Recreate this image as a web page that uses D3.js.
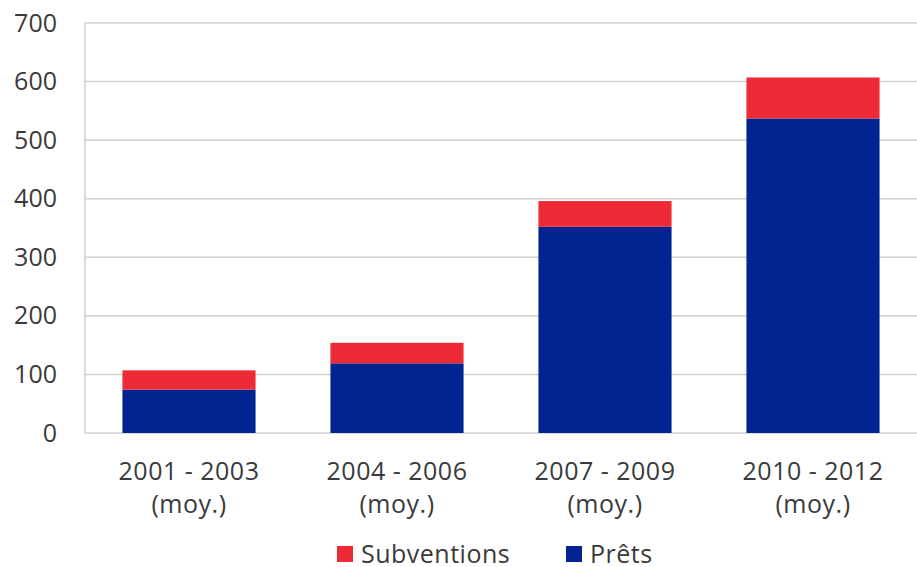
<!DOCTYPE html>
<html>
<head>
<meta charset="utf-8">
<script src="https://cdn.jsdelivr.net/npm/d3@7"></script>
<style>
  body { margin: 0; background: #fff; }
  text { font-family: "Open Sans", "DejaVu Sans", sans-serif; fill: #3a3a3a; }
</style>
</head>
<body>
<div id="chart"></div>
<script>
const width = 917, height = 567;
const margin = { top: 23, right: 0, bottom: 134, left: 85 };

const periods = ['2001 - 2003', '2004 - 2006', '2007 - 2009', '2010 - 2012'];
const prets = [74, 119, 352, 537];
const subventions = [33, 35, 44, 70];
const yTicks = [0, 100, 200, 300, 400, 500, 600, 700];
const seriesNames = ['Subventions', 'Prêts'];
const colors = { 'Prêts': '#022490', 'Subventions': '#ee2a37' };

const data = periods.map((p, i) => ({ period: p, 'Prêts': prets[i], 'Subventions': subventions[i] }));

const xScale = d3.scaleBand().domain(periods)
    .range([margin.left, width - margin.right]).paddingInner(0.36).paddingOuter(0.18);
const yScale = d3.scaleLinear().domain([0, 700]).range([height - margin.bottom, margin.top]);

const svg = d3.select('#chart').append('svg')
    .attr('width', width)
    .attr('height', height);

// gridlines
svg.append('g')
    .selectAll('line')
    .data(yTicks)
    .enter().append('line')
    .attr('x1', margin.left)
    .attr('x2', width - margin.right)
    .attr('y1', d => yScale(d))
    .attr('y2', d => yScale(d))
    .style('stroke', '#cfcfcf')
    .style('stroke-width', 1.5);

// y axis line
svg.append('line')
    .attr('x1', margin.left).attr('x2', margin.left)
    .attr('y1', yScale(700)).attr('y2', yScale(0))
    .style('stroke', '#cfcfcf')
    .style('stroke-width', 1.5);

// y tick labels
const yAxis = svg.append('g')
    .attr('transform', `translate(${margin.left - 28},0)`)
    .call(d3.axisLeft(yScale).tickValues(yTicks).tickSize(0).tickPadding(0));
yAxis.select('.domain').remove();
yAxis.selectAll('text')
    .style('font-size', '25px')
    .style('font-family', '"Open Sans", sans-serif')
    .attr('fill', '#3a3a3a');

// stacked bars
const stack = d3.stack().keys(['Prêts', 'Subventions']);
const layers = stack(data);

svg.append('g')
    .selectAll('g')
    .data(layers)
    .enter().append('g')
    .style('fill', d => colors[d.key])
    .selectAll('rect')
    .data(d => d)
    .enter().append('rect')
    .attr('x', d => xScale(d.data.period))
    .attr('width', xScale.bandwidth())
    .attr('y', d => yScale(d[1]))
    .attr('height', d => yScale(d[0]) - yScale(d[1]));

// x labels
const xLabels = svg.append('g')
    .selectAll('text')
    .data(periods)
    .enter().append('text')
    .attr('x', d => xScale(d) + xScale.bandwidth() / 2)
    .attr('text-anchor', 'middle')
    .style('font-size', '25px')
    .style('letter-spacing', '0.5px');
xLabels.append('tspan')
    .attr('x', d => xScale(d) + xScale.bandwidth() / 2)
    .attr('y', 480)
    .text(d => d);
xLabels.append('tspan')
    .attr('x', d => xScale(d) + xScale.bandwidth() / 2)
    .attr('y', 513)
    .text('(moy.)');

// legend
const legendX = [337, 566];
const legend = svg.append('g')
    .selectAll('g')
    .data(seriesNames)
    .enter().append('g')
    .attr('transform', (d, i) => `translate(${legendX[i]},555)`);
legend.append('rect')
    .attr('x', 0).attr('y', -9)
    .attr('width', 16).attr('height', 16)
    .style('fill', d => colors[d]);
legend.append('text')
    .attr('x', 24).attr('y', 8)
    .style('font-size', '25px')
    .style('letter-spacing', '0.5px')
    .text(d => d);
</script>
</body>
</html>
